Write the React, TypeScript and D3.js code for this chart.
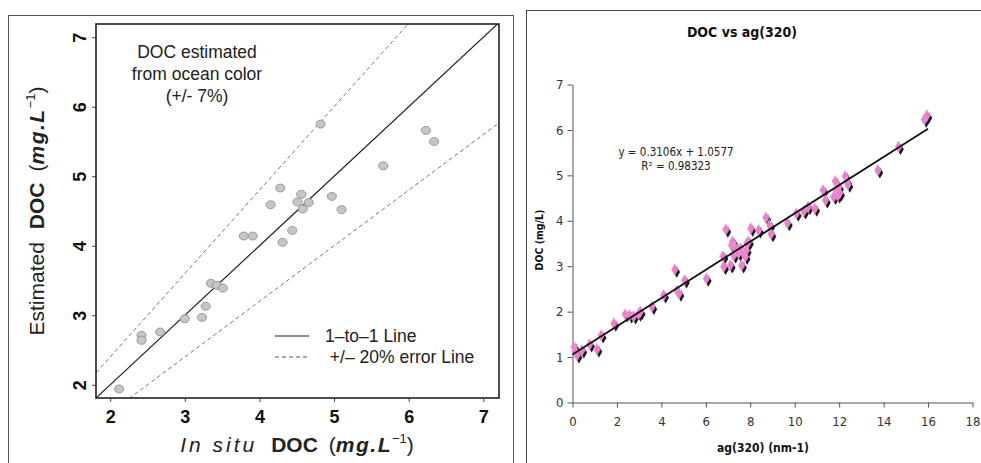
import * as d3 from 'd3';
import React, { useEffect, useRef } from 'react';

// left panel: in situ vs estimated DOC
const insituDoc = [2.12, 2.42, 2.42, 2.67, 3.0, 3.23, 3.28, 3.35, 3.43, 3.51, 3.79, 3.91, 4.15, 4.28, 4.31, 4.44, 4.51, 4.56, 4.58, 4.66, 4.82, 4.97, 5.1, 5.66, 6.23, 6.34];
const estimatedDoc = [1.94, 2.71, 2.64, 2.76, 2.95, 2.97, 3.13, 3.46, 3.43, 3.39, 4.14, 4.14, 4.59, 4.83, 4.05, 4.22, 4.63, 4.74, 4.53, 4.62, 5.75, 4.71, 4.52, 5.15, 5.66, 5.5];
const leftTicks = [2, 3, 4, 5, 6, 7];
const annotationLines = ['DOC estimated', 'from ocean color', '(+/- 7%)'];
const legendItems = [
  { label: '1\u2013to\u20131 Line', dash: null },
  { label: ' +/\u2013 20% error Line', dash: '4,3' },
];

// right panel: DOC vs ag(320)
const ag320 = [0.07, 0.12, 0.2, 0.42, 0.77, 1.1, 1.29, 1.86, 2.37, 2.57, 2.75, 2.97, 3.05, 3.57, 4.1, 4.6, 4.7, 4.79, 5.04, 6.02, 6.77, 6.8, 6.9, 7.1, 7.15, 7.2, 7.25, 7.32, 7.47, 7.55, 7.61, 7.7, 7.77, 7.82, 7.85, 7.92, 8.02, 8.37, 8.7, 8.87, 8.93, 9.67, 10.07, 10.4, 10.6, 10.9, 11.27, 11.38, 11.75, 11.82, 11.87, 11.93, 11.97, 12.02, 12.27, 12.35, 12.39, 13.74, 14.67, 15.83, 15.95];
const docMgL = [1.22, 1.12, 1.04, 1.15, 1.28, 1.17, 1.48, 1.74, 1.94, 1.92, 1.9, 1.96, 2.0, 2.11, 2.36, 2.93, 2.46, 2.4, 2.69, 2.73, 3.22, 2.99, 3.81, 3.02, 3.46, 3.54, 3.24, 3.41, 3.29, 3.39, 3.02, 3.28, 3.21, 3.35, 3.51, 3.54, 3.83, 3.79, 4.07, 3.9, 3.71, 3.95, 4.16, 4.21, 4.31, 4.27, 4.67, 4.45, 4.53, 4.87, 4.67, 4.56, 4.74, 4.61, 4.98, 4.86, 4.8, 5.11, 5.63, 6.23, 6.32];
const rightXTicks = [0, 2, 4, 6, 8, 10, 12, 14, 16, 18];
const rightYTicks = [0, 1, 2, 3, 4, 5, 6, 7];
const slope = 0.3106;
const intercept = 1.0577;
const fitRange = [0, 16];

const App = () => {
  const svgRef = useRef<SVGSVGElement>(null);

  useEffect(() => {
    const svg = d3.select(svgRef.current);
    svg.selectAll('*').remove();

    // ---------- left panel ----------
    svg.append('rect')
      .attr('x', 8.5).attr('y', 15.5).attr('width', 505).attr('height', 460)
      .attr('fill', 'none').attr('stroke', '#555').attr('stroke-width', 1);

    const x = d3.scaleLinear().domain([1.81, 7.21]).range([96, 499]);
    const y = d3.scaleLinear().domain([1.81, 7.19]).range([398, 24]);
    const L = svg.append('g').attr('font-family', 'Liberation Sans, Arial, sans-serif');

    L.append('g').attr('transform', 'translate(0,398)')
      .call(d3.axisBottom(x).tickValues(leftTicks).tickSize(4).tickFormat(d3.format('d')))
      .call(g => g.select('.domain').remove())
      .call(g => g.selectAll('text').attr('font-size', 18).attr('font-weight', 'bold').attr('dy', '1.0em').attr('fill', '#111').attr('font-family', 'Liberation Sans, Arial'))
      .call(g => g.selectAll('line').attr('stroke', '#444'));

    const yAxis = L.append('g').attr('transform', 'translate(96,0)')
      .call(d3.axisLeft(y).tickValues(leftTicks).tickSize(4).tickFormat(d3.format('d')))
      .call(g => g.select('.domain').remove())
      .call(g => g.selectAll('line').attr('stroke', '#444'));
    yAxis.selectAll('text')
      .attr('font-size', 18).attr('font-weight', 'bold').attr('fill', '#111')
      .attr('font-family', 'Liberation Sans, Arial')
      .attr('x', null)
      .attr('text-anchor', 'middle')
      .attr('transform', 'translate(-16,0) rotate(-90)')
      .attr('dy', '0.35em');

    // clipped lines
    L.append('clipPath').attr('id', 'leftclip').append('rect')
      .attr('x', 96).attr('y', 24).attr('width', 403).attr('height', 374);
    const lines = L.append('g').attr('clip-path', 'url(#leftclip)');
    const span = [1.5, 7.5];
    lines.append('path').attr('d', d3.line<number>().x(d => x(d)).y(d => y(d))(span))
      .attr('stroke', '#222').attr('stroke-width', 1.2).attr('fill', 'none');
    lines.append('path').attr('d', d3.line<number>().x(d => x(d)).y(d => y(d * 1.2))(span))
      .attr('stroke', '#777').attr('stroke-dasharray', '4,3').attr('fill', 'none');
    lines.append('path').attr('d', d3.line<number>().x(d => x(d)).y(d => y(d * 0.8))(span))
      .attr('stroke', '#777').attr('stroke-dasharray', '4,3').attr('fill', 'none');

    L.append('g').selectAll('ellipse')
      .data(insituDoc.map((v, i) => [v, estimatedDoc[i]]))
      .join('ellipse')
      .attr('cx', d => x(d[0])).attr('cy', d => y(d[1]))
      .attr('rx', 4.6).attr('ry', 4)
      .attr('fill', '#c6c6c6').attr('stroke', '#8a8a8a').attr('stroke-width', 0.8);

    L.append('rect')
      .attr('x', 96).attr('y', 24).attr('width', 403).attr('height', 374)
      .attr('fill', 'none').attr('stroke', '#222').attr('stroke-width', 1.6);

    L.append('g').selectAll('text').data(annotationLines).join('text')
      .attr('x', 197).attr('y', (d, i) => 58 + i * 22)
      .attr('text-anchor', 'middle').attr('font-size', 17.5).attr('fill', '#222')
      .text(d => d);

    const leg = L.append('g');
    legendItems.forEach((item, i) => {
      const ly = 336 + i * 21;
      leg.append('line').attr('x1', 275).attr('x2', 309).attr('y1', ly).attr('y2', ly)
        .attr('stroke', item.dash ? '#555' : '#222').attr('stroke-width', 1.2)
        .attr('stroke-dasharray', item.dash);
      leg.append('text').attr('x', 325).attr('y', ly + 6).attr('font-size', 17.5).attr('fill', '#222')
        .attr('xml:space', 'preserve').text(item.label);
    });

    const xt = L.append('text').attr('x', 297).attr('y', 452).attr('text-anchor', 'middle')
      .attr('font-size', 21).attr('fill', '#222');
    xt.append('tspan').attr('font-style', 'italic').attr('letter-spacing', 3).text('In situ');
    xt.append('tspan').attr('dx', 14).attr('font-weight', 'bold').text('DOC');
    xt.append('tspan').attr('dx', 11).text('(');
    xt.append('tspan').attr('font-weight', 'bold').attr('font-style', 'italic').attr('letter-spacing', 1.5).text('mg.L');
    xt.append('tspan').attr('font-size', 13).attr('dy', -9).text('\u22121');
    xt.append('tspan').attr('dy', 9).text(')');

    const yt = L.append('text').attr('transform', 'translate(44,211) rotate(-90)').attr('text-anchor', 'middle')
      .attr('font-size', 21).attr('fill', '#222');
    yt.append('tspan').text('Estimated');
    yt.append('tspan').attr('dx', 13).attr('font-weight', 'bold').text('DOC');
    yt.append('tspan').attr('dx', 11).text('(');
    yt.append('tspan').attr('font-weight', 'bold').attr('font-style', 'italic').attr('letter-spacing', 1.5).text('mg.L');
    yt.append('tspan').attr('font-size', 13).attr('dy', -9).text('\u22121');
    yt.append('tspan').attr('dy', 9).text(')');

    // ---------- right panel ----------
    const rFont = 'DejaVu Sans Condensed, DejaVu Sans, Verdana, sans-serif';
    const R = svg.append('g').attr('font-family', rFont);
    R.append('rect')
      .attr('x', 526.5).attr('y', 10.5).attr('width', 470).attr('height', 470)
      .attr('fill', 'none').attr('stroke', '#444').attr('stroke-width', 1);

    const rx = d3.scaleLinear().domain([0, 18]).range([572.5, 972.5]);
    const ry = d3.scaleLinear().domain([0, 7]).range([402.5, 84.5]);

    R.append('g').attr('transform', 'translate(0,402.5)')
      .call(d3.axisBottom(rx).tickValues(rightXTicks).tickSize(5).tickSizeOuter(0).tickFormat(d3.format('d')))
      .call(g => g.select('.domain').attr('stroke', '#555'))
      .call(g => g.selectAll('line').attr('stroke', '#555'))
      .call(g => g.selectAll('text').attr('font-size', 13).attr('fill', '#333').attr('dy', '1.2em').attr('font-family', rFont));

    R.append('g').attr('transform', 'translate(572.5,0)')
      .call(d3.axisLeft(ry).tickValues(rightYTicks).tickSize(5).tickSizeOuter(0).tickFormat(d3.format('d')))
      .call(g => g.select('.domain').attr('stroke', '#555'))
      .call(g => g.selectAll('line').attr('stroke', '#555'))
      .call(g => g.selectAll('text').attr('font-size', 13).attr('fill', '#333').attr('x', -9).attr('font-family', rFont));

    const diamond = d3.symbol().type(d3.symbolDiamond).size(38);
    const pts = ag320.map((v, i) => [v, docMgL[i]]);
    R.append('g').selectAll('path').data(pts).join('path')
      .attr('d', diamond)
      .attr('transform', d => `translate(${rx(d[0]) + 2},${ry(d[1]) + 2.5})`)
      .attr('fill', '#1a1a1a');
    R.append('g').selectAll('path').data(pts).join('path')
      .attr('d', diamond)
      .attr('transform', d => `translate(${rx(d[0])},${ry(d[1])})`)
      .attr('fill', '#ea7fcf').attr('stroke', '#f2a6de').attr('stroke-width', 0.6);

    R.append('path')
      .attr('d', d3.line<number>().x(d => rx(d)).y(d => ry(slope * d + intercept))(fitRange))
      .attr('stroke', '#111').attr('stroke-width', 1.8).attr('fill', 'none');

    R.append('text').attr('x', 676).attr('y', 156).attr('text-anchor', 'middle')
      .attr('font-size', 11.5).attr('fill', '#222').text('y = 0.3106x + 1.0577');
    R.append('text').attr('x', 676).attr('y', 170).attr('text-anchor', 'middle')
      .attr('font-size', 11.5).attr('fill', '#222').text('R\u00b2 = 0.98323');

    R.append('text').attr('x', 742).attr('y', 37).attr('text-anchor', 'middle')
      .attr('font-size', 14).attr('font-weight', 'bold').attr('fill', '#111').text('DOC vs ag(320)');
    R.append('text').attr('x', 763).attr('y', 452).attr('text-anchor', 'middle')
      .attr('font-size', 12).attr('font-weight', 'bold').attr('fill', '#111').text('ag(320) (nm-1)');
    R.append('text').attr('transform', 'translate(543,240) rotate(-90)').attr('text-anchor', 'middle')
      .attr('font-size', 10.5).attr('font-weight', 'bold').attr('fill', '#111').text('DOC (mg/L)');
  }, []);

  return (
    <svg
      ref={svgRef}
      width={981}
      height={463}
      style={{ position: 'absolute', left: 0, top: 0, background: '#fff' }}
    />
  );
};

export default App;
